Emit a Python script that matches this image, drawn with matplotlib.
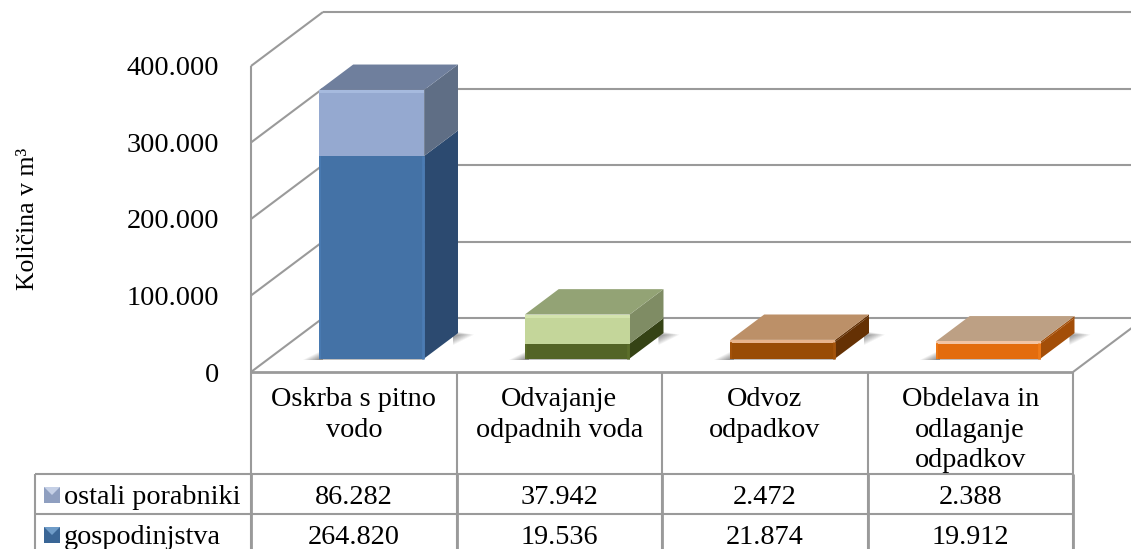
import matplotlib
matplotlib.use("Agg")
import matplotlib.pyplot as plt
from matplotlib.patches import Polygon

plt.rcParams['font.family'] = ['Liberation Serif', 'DejaVu Serif']

# data
categories = ['Oskrba s pitno\nvodo', 'Odvajanje\nodpadnih voda', 'Odvoz\nodpadkov',
              'Obdelava in\nodlaganje\nodpadkov']
series_names = ['ostali porabniki', 'gospodinjstva']
ostali = [86282, 37942, 2472, 2388]
gospodinjstva = [264820, 19536, 21874, 19912]
y_ticks = [0, 100000, 200000, 300000, 400000]

# colours per category: front, side
low_front = ['#4472a6', '#536426', '#994c05', '#e36c0d']
low_side = ['#2c4a70', '#354315', '#653104', '#a34e08']
up_front = ['#95a9d0', '#c4d69a', '#e0a070', '#f0b088']
up_side = ['#5f6e85', '#7f8c64', '#653104', '#a34e08']
top_col = ['#6f7f9d', '#93a375', '#bc9068', '#bda084']
hi_low = ['#4b7cb4', '#5b6e2a', '#a5530a', '#ef7a18']
hi_up = ['#a6bade', '#d3e3ad', '#e8b48c', '#f2c4a4']

grid_col = '#9a9a9a'
W, H = 1131, 549
fig = plt.figure(figsize=(W / 100, H / 100), dpi=100)
ax = fig.add_axes([251 / W, (H - 372) / H, 822 / W, 306 / H])
ax.set_xlim(0, 4)
ax.set_ylim(0, 400000)
ax.axis('off')

# px -> data scale
px_x = 4 / 822
px_y = 400000 / 306
depth_x = 72 * px_x
depth_y = 54 * px_y
bar_w = 0.51
z0, z1 = 0.25, 0.72   # depth range of the bars


def poly(pts, color, z, alpha=1.0):
    ax.add_patch(Polygon(pts, closed=True, facecolor=color, edgecolor='none',
                         zorder=z, alpha=alpha, clip_on=False))


def line(xs, ys, lw=1.5, z=1, color=grid_col):
    ax.plot(xs, ys, color=color, lw=lw, zorder=z, clip_on=False, solid_capstyle='butt')


# walls
for v in y_ticks:
    line([0, depth_x], [v, v + depth_y])
    line([depth_x, 4 + depth_x], [v + depth_y, v + depth_y])
line([0, 0], [0, 400000])
line([4, 4 + depth_x], [0, depth_y])


def box(cx, y0, y1, front, side, z):
    xl = cx - bar_w / 2 + z0 * depth_x
    xr = xl + bar_w
    b0 = y0 + z0 * depth_y
    b1 = y1 + z0 * depth_y
    d = (z1 - z0)
    poly([(xr, b0), (xr + d * depth_x, b0 + d * depth_y),
          (xr + d * depth_x, b1 + d * depth_y), (xr, b1)], side, z)
    poly([(xl, b0), (xr, b0), (xr, b1), (xl, b1)], front, z + 0.1)


for i in range(4):
    cx = i + 0.5
    xl = cx - bar_w / 2 + z0 * depth_x
    xr = xl + bar_w
    b = z0 * depth_y
    d = z1 - z0
    xb = xr + d * depth_x
    yb = b + d * depth_y
    # shadow on the floor, two soft tails and a thin line under the front
    for g in range(1, 9):
        s = g * 2.0 * px_x
        h = (1 + g) * px_y
        poly([(xl - s, b - px_y), (xl + 4 * px_x, b - px_y), (xl + 4 * px_x, b + h)],
             '#000000', 2, alpha=0.06)
        poly([(xb + s, yb - 1.5 * px_y), (xb - 5 * px_x, yb + (g - 4) * 0.5 * px_y),
              (xb - 5 * px_x, yb - h - 3 * px_y)],
             '#000000', 2, alpha=0.05)
    poly([(xl, b), (xr, b), (xr, b - 1.5 * px_y), (xl, b - 1.5 * px_y)], '#808080', 2, alpha=0.5)

    low = gospodinjstva[i]
    total = low + ostali[i]
    box(cx, 0, low, low_front[i], low_side[i], 3)
    box(cx, low, total, up_front[i], up_side[i], 3.2)
    # top
    t = total + z0 * depth_y
    poly([(xl, t), (xr, t), (xr + d * depth_x, t + d * depth_y),
          (xl + d * depth_x, t + d * depth_y)], top_col[i], 3.4)
    # bevel strips
    poly([(xl, t), (xr, t), (xr, t - 3 * px_y), (xl, t - 3 * px_y)], hi_up[i], 3.5)
    line([xr - 1.5 * px_x, xr - 1.5 * px_x], [b, low + b], lw=2, z=3.5, color=hi_low[i])
    line([xl + 1 * px_x, xl + 1 * px_x], [b, low + b], lw=1.2, z=3.5, color=hi_low[i])

# table below the plot
row1 = -102 * px_y
row2 = -142 * px_y
row3 = -180 * px_y
left = -216 * px_x
for i in range(5):
    line([i, i], [0, row3])
    line([i, i], [row1, row3], lw=2)
line([0, 4], [0, 0], lw=2)
line([left, 4], [row1, row1])
line([left, 4], [row2, row2])
line([left, left], [row1, row3])

text_size = 20.3
for i, c in enumerate(categories):
    ax.text(i + 0.5, -15 * px_y, c, ha='center', va='top', fontsize=text_size,
            linespacing=1.3, clip_on=False)
    ax.text(i + 0.5, row1 - 24 * px_y, f'{ostali[i]:,}'.replace(',', '.'), ha='center',
            va='center', fontsize=text_size)
    ax.text(i + 0.5, row2 - 24 * px_y, f'{gospodinjstva[i]:,}'.replace(',', '.'), ha='center',
            va='center', fontsize=text_size)

# legend keys and names in the first column
rows = [row1 - 24 * px_y, row2 - 24 * px_y]
key_cols = [('#8f9fc0', '#c5d0e6'), ('#3a6696', '#6f9cc8')]
for name, y, (dark, light) in zip(series_names, rows, key_cols):
    kx = -207 * px_x
    ks = 16 * px_x
    ky = 8 * px_y
    poly([(kx, y - ky + 3 * px_y), (kx + ks, y - ky + 3 * px_y), (kx + ks, y + ky + 3 * px_y),
          (kx, y + ky + 3 * px_y)], dark, 4)
    poly([(kx, y + ky + 3 * px_y), (kx + ks, y + ky + 3 * px_y), (kx + ks / 2, y + 3 * px_y)], light, 4.1)
    ax.text(-187 * px_x, y, name, ha='left', va='center', fontsize=text_size)

# y axis
for v in y_ticks:
    ax.text(-32 * px_x, v - 3 * px_y, f'{v:,}'.replace(',', '.'), ha='right', va='center',
            fontsize=text_size)
ax.text(-223 * px_x, 200000, 'Količina v m³', rotation=90, ha='center', va='center',
        fontsize=18.5, clip_on=False)

fig.savefig('out.png', dpi=100)
